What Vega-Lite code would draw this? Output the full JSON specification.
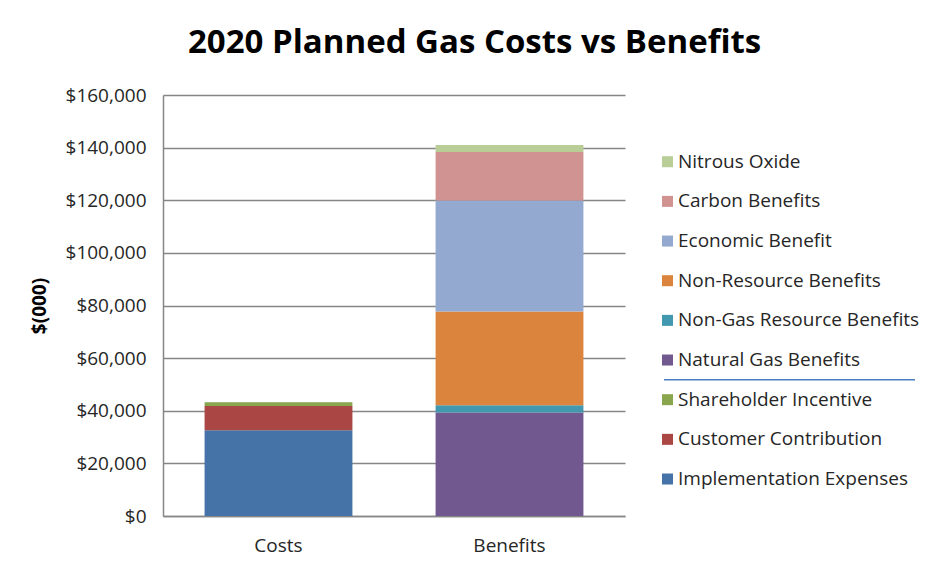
{
  "$schema": "https://vega.github.io/schema/vega-lite/v6.json",
  "padding": {"left": 30, "top": 27, "right": 5, "bottom": 5},
  "background": "white",
  "title": {"text": "2020 Planned Gas Costs vs Benefits", "fontSize": 33, "font": "Open Sans", "fontWeight": "bold", "color": "#000000", "anchor": "middle", "frame": "bounds", "offset": 26},
  "config": {"font": "Open Sans", "view": {"stroke": null}},
  "datasets": {
    "bars": [
      {"group": "Costs", "series": "Implementation Expenses", "value": 32600},
      {"group": "Costs", "series": "Customer Contribution", "value": 9200},
      {"group": "Costs", "series": "Shareholder Incentive", "value": 1400},
      {"group": "Benefits", "series": "Natural Gas Benefits", "value": 39300},
      {"group": "Benefits", "series": "Non-Gas Resource Benefits", "value": 2800},
      {"group": "Benefits", "series": "Non-Resource Benefits", "value": 35600},
      {"group": "Benefits", "series": "Economic Benefit", "value": 42200},
      {"group": "Benefits", "series": "Carbon Benefits", "value": 18400},
      {"group": "Benefits", "series": "Nitrous Oxide", "value": 2700}
    ],
    "legend": [
      {"series": "Nitrous Oxide"},
      {"series": "Carbon Benefits"},
      {"series": "Economic Benefit"},
      {"series": "Non-Resource Benefits"},
      {"series": "Non-Gas Resource Benefits"},
      {"series": "Natural Gas Benefits"},
      {"series": "Shareholder Incentive"},
      {"series": "Customer Contribution"},
      {"series": "Implementation Expenses"}
    ]
  },
  "spacing": 37,
  "hconcat": [
    {
      "width": 462,
      "height": 421,
      "data": {"name": "bars"},
      "transform": [
        {"calculate": "indexof(['Implementation Expenses', 'Customer Contribution', 'Shareholder Incentive', 'Natural Gas Benefits', 'Non-Gas Resource Benefits', 'Non-Resource Benefits', 'Economic Benefit', 'Carbon Benefits', 'Nitrous Oxide'], datum.series)", "as": "stackOrder"}
      ],
      "mark": {"type": "bar"},
      "encoding": {
        "x": {
          "field": "group", "type": "nominal", "sort": ["Costs", "Benefits"],
          "scale": {"paddingInner": 0.36, "paddingOuter": 0.18},
          "axis": {"title": null, "labelAngle": 0, "labelFontSize": 19, "labelColor": "#262626", "domainColor": "#868686", "domainWidth": 1.5, "ticks": false, "labelPadding": 20}
        },
        "y": {
          "field": "value", "type": "quantitative", "stack": "zero",
          "scale": {"domain": [0, 160000]},
          "axis": {
            "title": "$(000)", "titleFontSize": 19, "titleFontWeight": "bold", "titleColor": "#000000", "titlePadding": 16,
            "values": [0, 20000, 40000, 60000, 80000, 100000, 120000, 140000, 160000],
            "format": "$,.0f", "labelFontSize": 19, "labelColor": "#262626",
            "grid": true, "gridColor": "#868686", "gridWidth": 1.5,
            "domainColor": "#868686", "domainWidth": 1.5, "ticks": false, "labelPadding": 17
          }
        },
        "order": {"field": "stackOrder", "type": "quantitative", "sort": "ascending"},
        "color": {
          "field": "series", "type": "nominal",
          "scale": {
            "domain": ["Implementation Expenses", "Customer Contribution", "Shareholder Incentive", "Natural Gas Benefits", "Non-Gas Resource Benefits", "Non-Resource Benefits", "Economic Benefit", "Carbon Benefits", "Nitrous Oxide"],
            "range": ["#4572A7", "#AA4643", "#89A54E", "#71588F", "#4198AF", "#DB843D", "#93A9CF", "#D19392", "#B9CD96"]
          },
          "legend": null
        }
      }
    },
    {
      "width": 251,
      "height": 421,
      "data": {"name": "legend"},
      "encoding": {
        "y": {
          "field": "series", "type": "nominal",
          "sort": ["Nitrous Oxide", "Carbon Benefits", "Economic Benefit", "Non-Resource Benefits", "Non-Gas Resource Benefits", "Natural Gas Benefits", "Shareholder Incentive", "Customer Contribution", "Implementation Expenses"],
          "scale": {"type": "band", "paddingInner": 0, "paddingOuter": 0.8076, "align": 0.732},
          "axis": null
        }
      },
      "layer": [
        {
          "mark": {"type": "square", "size": 121, "opacity": 1, "filled": true},
          "encoding": {
            "x": {"value": 3.5},
            "color": {
              "field": "series", "type": "nominal",
              "scale": {
                "domain": ["Implementation Expenses", "Customer Contribution", "Shareholder Incentive", "Natural Gas Benefits", "Non-Gas Resource Benefits", "Non-Resource Benefits", "Economic Benefit", "Carbon Benefits", "Nitrous Oxide"],
                "range": ["#4572A7", "#AA4643", "#89A54E", "#71588F", "#4198AF", "#DB843D", "#93A9CF", "#D19392", "#B9CD96"]
              },
              "legend": null
            }
          }
        },
        {
          "mark": {"type": "text", "align": "left", "baseline": "middle", "fontSize": 19, "color": "#262626"},
          "encoding": {"x": {"value": 14}, "text": {"field": "series"}}
        },
        {
          "transform": [{"filter": "datum.series == 'Natural Gas Benefits'"}],
          "mark": {"type": "rule", "color": "#4a7ebb", "strokeWidth": 1.5},
          "encoding": {
            "y": {
              "field": "series", "type": "nominal", "bandPosition": 1,
              "sort": ["Nitrous Oxide", "Carbon Benefits", "Economic Benefit", "Non-Resource Benefits", "Non-Gas Resource Benefits", "Natural Gas Benefits", "Shareholder Incentive", "Customer Contribution", "Implementation Expenses"]
            }
          }
        }
      ]
    }
  ]
}
